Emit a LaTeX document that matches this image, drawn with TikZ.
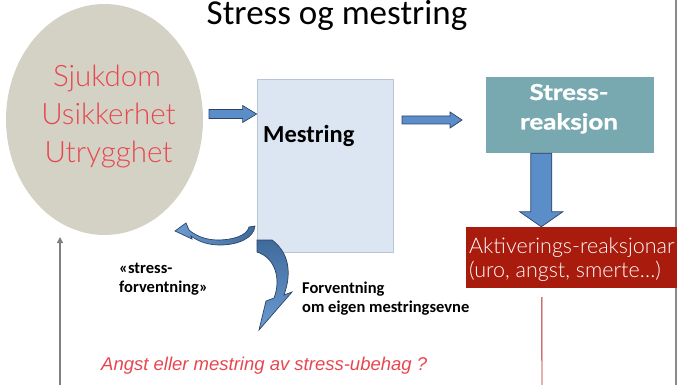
\documentclass[tikz,border=0pt]{standalone}
\usepackage{fontspec}
\setmainfont{Carlito}
\newfontfamily\gillfont{Lato Light}
\newfontfamily\gillbold{Lato}[FakeStretch=1.18, FakeBold=1.2]
\newfontfamily\arialfont{Liberation Sans}
\usetikzlibrary{shapes.geometric,calc,arrows.meta}

\definecolor{ellfill}{HTML}{D4D2C5}
\definecolor{ellred}{HTML}{E8464F}
\definecolor{mestfill}{HTML}{DCE6F2}
\definecolor{mestline}{HTML}{B9C5D5}
\definecolor{tealbox}{HTML}{78A9B1}
\definecolor{redbox}{HTML}{A91B0D}
\definecolor{arrowblue}{HTML}{5B8DC9}
\definecolor{arrowdark}{HTML}{3F6A9C}
\definecolor{arrowlight}{HTML}{6C9BD2}
\definecolor{arrowedge}{HTML}{2B4466}
\definecolor{rulegray}{HTML}{8A8A8A}
\definecolor{redline}{HTML}{B22222}

\tikzset{
  blockarrow/.style={fill=arrowblue, draw=arrowedge, line width=0.7pt, line join=miter},
  curvearrow/.style={draw=arrowedge, line width=0.7pt, line join=miter},
  bodytext/.style={inner sep=0pt, font=\fontsize{16.5}{19}\selectfont\bfseries},
  elltext/.style={anchor=base, inner sep=0pt, text=ellred, font=\gillfont\fontsize{29.5}{32}\selectfont},
  whitetext/.style={inner sep=0pt, text=white},
}

% horizontal block arrow: start, tip, shaft half-width, head half-width, head length
\newcommand\rightblock[5]{%
  \draw[blockarrow] ($(#1)+(0,-#3)$) -- ($(#2)+(-#5,-#3)$) -- ($(#2)+(-#5,-#4)$) -- (#2)
    -- ($(#2)+(-#5,#4)$) -- ($(#2)+(-#5,#3)$) -- ($(#1)+(0,#3)$) -- cycle;}
% vertical block arrow pointing down
\newcommand\downblock[5]{%
  \draw[blockarrow] ($(#1)+(-#3,0)$) -- ($(#2)+(-#3,-#5)$) -- ($(#2)+(-#4,-#5)$) -- (#2)
    -- ($(#2)+(#4,-#5)$) -- ($(#2)+(#3,-#5)$) -- ($(#1)+(#3,0)$) -- cycle;}

\begin{document}
\begin{tikzpicture}[x=1pt,y=-1pt]
\useasboundingbox (0,0) rectangle (691,385);

% right border rule
\coordinate (ruletop) at (676,0);
\coordinate (rulebot) at (676,385);
\draw[rulegray, line width=2pt] (ruletop) -- (rulebot);

% title
\node[anchor=base, inner sep=0pt] (title) at (337,25) {\fontsize{35}{40}\selectfont Stress og mestring};

% stress factors
\node[ellipse, fill=ellfill, minimum width=197, minimum height=231, inner sep=0pt] (ell) at (104.5,119.5) {};
\node[elltext] (l1) at (107,87) {Sjukdom};
\node[elltext] (l2) at (108.5,125) {Usikkerhet};
\node[elltext] (l3) at (108.5,163) {Utrygghet};

% coping box
\node[rectangle, fill=mestfill, draw=mestline, line width=0.8pt, minimum width=136, minimum height=173, inner sep=0pt] (mest) at (325,165.5) {};
\node[anchor=base west, inner sep=0pt, font=\fontsize{24.5}{28}\selectfont\bfseries] (mesttext) at (263,143) {Mestring};

% stress reaction box
\node[rectangle, fill=tealbox, minimum width=168, minimum height=76, inner sep=0pt] (teal) at (570,115) {};
\node[anchor=base, whitetext, font=\gillbold\fontsize{22}{24}\selectfont\bfseries] (t1) at (569,100) {Stress-};
\node[anchor=base, whitetext, font=\gillbold\fontsize{22}{24}\selectfont\bfseries] (t2) at (569,129.5) {reaksjon};

% activation box
\node[rectangle, fill=redbox, minimum width=211, minimum height=61, inner sep=0pt] (act) at (571.5,257.5) {};
\node[anchor=base west, whitetext, font=\gillfont\fontsize{21.5}{24}\selectfont] (a1) at (469,253) {Aktiverings-reaksjonar};
\node[anchor=base west, whitetext, font=\gillfont\fontsize{21.5}{24}\selectfont] (a2) at (469,277) {(uro, angst, smerte…)};

% straight block arrows
\coordinate (b1s) at (209,114);
\coordinate (b1e) at (mest.west |- b1s);
\rightblock{b1s}{b1e}{4.5}{8.5}{14}
\coordinate (b2s) at (402,120);
\coordinate (b2e) at (462,120);
\rightblock{b2s}{b2e}{4}{8}{12}
\coordinate (b3s) at ($(teal.south west)+(55.5,0)$);
\coordinate (b3e) at (b3s |- act.north);
\downblock{b3s}{b3e}{10.5}{21.5}{15}

% curved arrow back towards the stress factors
\draw[curvearrow, left color=arrowlight, right color=arrowdark]
  (255,226) -- (249,227) .. controls (247,236) and (232,240) .. (218,240)
  .. controls (206,240) and (196,236) .. (189,230) -- (186,223) -- (175,231) -- (192,239)
  -- (191,236) .. controls (199,242) and (209,245) .. (220,245)
  .. controls (238,245) and (254,238) .. (255,226) -- cycle;

% curved arrow down to the expectation label
\draw[curvearrow, top color=arrowdark, bottom color=arrowlight]
  (257,240) -- (272,240) .. controls (287,251) and (293,270) .. (284,295)
  -- (292,292) -- (259,330) -- (266,301) -- (274,298)
  .. controls (281,280) and (276,258) .. (257,252) -- cycle;

% labels
\node[anchor=base west, bodytext] (s1) at (119,273) {«stress-};
\node[anchor=base west, bodytext] (s2) at (119,292) {forventning»};
\node[anchor=base west, bodytext] (f1) at (302,293) {Forventning};
\node[anchor=base west, bodytext] (f2) at (302,312) {om eigen mestringsevne};

\node[anchor=base west, inner sep=0pt, text=ellred, font=\arialfont\itshape\fontsize{18.5}{22}\selectfont] (q) at (101,370) {Angst eller mestring av stress-ubehag ?};

% feedback lines
\coordinate (upbot) at (60,385);
\coordinate (uptop) at (60,237);
\draw[gray, line width=1.5pt, -{Triangle[length=6pt,width=6pt]}] (upbot) -- (uptop);
\coordinate (rltop) at (act.south -| b3s);
\coordinate (rlbot) at (542,385);
\draw[redline, line width=0.9pt] ($(rltop)+(0.5,9)$) -- (rlbot);
\end{tikzpicture}
\end{document}
